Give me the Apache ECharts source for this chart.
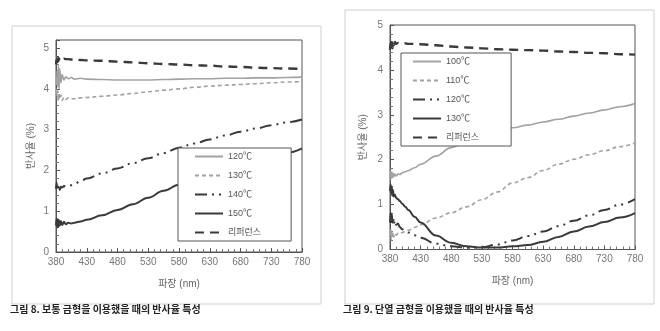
<!DOCTYPE html>
<html><head><meta charset="utf-8">
<script src="https://cdn.jsdelivr.net/npm/echarts@6/dist/echarts.min.js"></script>
<style>html,body{margin:0;padding:0;background:#fff}#c{width:660px;height:331px}</style>
</head><body><div id="c"></div>
<script>
// Wavelength samples (nm)
const wavelengths = [380,381,382,383,384,385,386,388,390,393,396,400,405,410,420,430,455,480,505,530,555,580,605,630,655,680,705,730,755,780];
const xTickLabels = [380,430,480,530,580,630,680,730,780];
const yTickLabels = [0,1,2,3,4,5];

// Figure 8 (보통 금형)
const fig8Names = ['120℃','130℃','140℃','150℃','리퍼런스'];
const fig8_120 = [4.3,4.1,4.45,4.05,4.6,4.0,4.5,4.15,4.35,4.22,4.3,4.25,4.28,4.24,4.26,4.24,4.23,4.22,4.22,4.22,4.23,4.24,4.25,4.25,4.26,4.26,4.27,4.27,4.28,4.29];
const fig8_130 = [3.9,4.0,3.75,3.95,3.7,3.9,3.75,3.85,3.72,3.8,3.74,3.78,3.76,3.76,3.78,3.79,3.82,3.85,3.89,3.93,3.97,4.0,4.04,4.07,4.09,4.11,4.13,4.15,4.17,4.18];
const fig8_140 = [1.55,1.7,1.5,1.68,1.55,1.62,1.52,1.6,1.58,1.62,1.6,1.62,1.64,1.67,1.74,1.8,1.93,2.05,2.18,2.3,2.43,2.56,2.66,2.76,2.86,2.95,3.03,3.11,3.18,3.25];
const fig8_150 = [0.65,0.82,0.6,0.8,0.62,0.78,0.65,0.76,0.66,0.74,0.68,0.72,0.7,0.72,0.75,0.79,0.9,1.03,1.17,1.33,1.5,1.65,1.77,1.88,1.99,2.1,2.21,2.32,2.43,2.54];
const fig8_ref = [4.6,4.72,4.62,4.78,4.68,4.75,4.7,4.74,4.72,4.74,4.73,4.73,4.72,4.72,4.71,4.7,4.69,4.67,4.65,4.63,4.61,4.6,4.58,4.57,4.55,4.54,4.52,4.51,4.5,4.49];

// Figure 9 (단열 금형)
const fig9Names = ['100℃','110℃','120℃','130℃','리퍼런스'];
const fig9_100 = [1.55,1.75,1.58,1.72,1.6,1.7,1.62,1.68,1.64,1.68,1.67,1.71,1.73,1.76,1.82,1.9,2.08,2.27,2.41,2.52,2.62,2.71,2.77,2.84,2.9,2.97,3.04,3.11,3.18,3.25];
const fig9_110 = [0.3,0.45,0.22,0.42,0.25,0.38,0.28,0.36,0.32,0.36,0.35,0.38,0.4,0.43,0.49,0.55,0.7,0.82,0.95,1.11,1.28,1.48,1.6,1.76,1.9,2.01,2.11,2.2,2.29,2.37];
const fig9_120 = [0.6,0.82,0.55,0.78,0.6,0.72,0.55,0.65,0.55,0.58,0.5,0.45,0.42,0.38,0.32,0.26,0.13,0.07,0.04,0.05,0.11,0.2,0.3,0.4,0.52,0.64,0.76,0.88,1.0,1.12];
const fig9_130 = [1.3,1.45,1.25,1.4,1.2,1.32,1.18,1.22,1.15,1.12,1.08,1.02,0.95,0.88,0.73,0.6,0.31,0.15,0.07,0.045,0.045,0.07,0.1,0.17,0.28,0.4,0.51,0.61,0.71,0.81];
const fig9_ref = [4.45,4.6,4.5,4.62,4.48,4.6,4.55,4.62,4.58,4.6,4.59,4.59,4.59,4.58,4.58,4.57,4.55,4.52,4.5,4.48,4.46,4.45,4.44,4.43,4.41,4.4,4.38,4.37,4.35,4.34];

const xStart = xTickLabels[0];
const pairs = vals => wavelengths.map((w,i)=>[w - xStart, vals[i]]);

const DARK = '#3a3a3a', GRAY = '#a2a2a2';
const FONT = "'Liberation Sans','Noto Sans CJK KR',sans-serif";
const styles = [
  {color: GRAY, width: 1.6, type: 'solid'},
  {color: GRAY, width: 1.6, type: [4,3]},
  {color: DARK, width: 2, type: [12,5,2,5,2,5]},
  {color: DARK, width: 2, type: 'solid'},
  {color: DARK, width: 2.4, type: [9,6]}
];

// internal unique ids so the two legends don't mix series with the same label
const uid = (fig, name) => fig + '|' + name;
const label = id => id.split('|')[1];

function mkSeries(fig, names, arrs, idx){
  return arrs.map((a,i)=>({
    name: uid(fig, names[i]), type:'line', xAxisIndex: idx, yAxisIndex: idx,
    data: pairs(a), showSymbol:false, symbol:'none', smooth:0.4, smoothMonotone:'x',
    lineStyle: {color: styles[i].color, width: styles[i].width, type: styles[i].type},
    itemStyle: {color: styles[i].color}, animation:false
  }));
}

function xAx(gi){
  return {type:'value', gridIndex: gi, min:0, max: xTickLabels[xTickLabels.length-1]-xStart, interval: xTickLabels[1]-xTickLabels[0],
    name:'파장 (nm)', nameLocation:'middle', nameGap: 27,
    nameTextStyle:{color:'#666', fontSize:10, fontFamily:FONT},
    axisLine:{show:true, lineStyle:{color:'#555', width:1}},
    axisTick:{show:true, inside:true, length:4, lineStyle:{color:'#555'}},
    minorTick:{show:true, splitNumber:5, length:3, lineStyle:{color:'#777'}},
    splitLine:{show:false}, minorSplitLine:{show:false},
    axisLabel:{color:'#777', fontSize:10, margin:5, fontFamily:FONT, formatter: v => String(v + xStart)}
  };
}
function yAx(gi, max, gap){
  return {type:'value', gridIndex: gi, min: yTickLabels[0], max: max, interval:1,
    name:'반사율 (%)', nameLocation:'middle', nameGap: gap,
    nameTextStyle:{color:'#666', fontSize:10, fontFamily:FONT},
    axisLine:{show:true, lineStyle:{color:'#555', width:1}},
    axisTick:{show:true, inside:true, length:4, lineStyle:{color:'#555'}},
    minorTick:{show:true, splitNumber:5, length:3, lineStyle:{color:'#777'}},
    splitLine:{show:false}, minorSplitLine:{show:false},
    axisLabel:{color:'#777', fontSize:10, margin:7, fontFamily:FONT, showMaxLabel: max === yTickLabels[yTickLabels.length-1],
      formatter: v => (yTickLabels.indexOf(v) >= 0 ? String(v) : '')}
  };
}
function legend(fig, names, left, top, pad){
  return {data: names.map(n => uid(fig, n)), formatter: label, orient:'vertical', left:left, top:top, padding: pad,
    itemWidth:28, itemHeight:10, itemGap:10, backgroundColor:'#fff',
    borderColor:'#555', borderWidth:1, borderRadius:0,
    itemStyle:{opacity:0, color:'rgba(0,0,0,0)', borderWidth:0},
    textStyle:{color:'#555', fontSize:9, fontFamily:FONT},
    inactiveColor:'#ccc', selectedMode:false};
}

const chart = echarts.init(document.getElementById('c'), null, {renderer:'canvas'});
chart.setOption({
  animation:false,
  backgroundColor:'#fff',
  grid:[
    {left:56, top:40, width:246, height:212, show:true, borderColor:'#555', borderWidth:1, containLabel:false},
    {left:390, top:25, width:245, height:224.5, show:true, borderColor:'#555', borderWidth:1, containLabel:false}
  ],
  xAxis:[xAx(0), xAx(1)],
  yAxis:[yAx(0, 5.2, 20), yAx(1, 5, 22)],
  legend:[legend('f8', fig8Names, 178, 148, [4,30,4,16]), legend('f9', fig9Names, 401, 53, [4,32,4,11])],
  series:[].concat(
    mkSeries('f8', fig8Names, [fig8_120, fig8_130, fig8_140, fig8_150, fig8_ref], 0),
    mkSeries('f9', fig9Names, [fig9_100, fig9_110, fig9_120, fig9_130, fig9_ref], 1)
  ),
  graphic:[
    {type:'rect', left:9.5, top:23.5, shape:{width:309, height:278}, style:{fill:'none', stroke:'#cfcfcf', lineWidth:1}, z:-10, silent:true},
    {type:'rect', left:342.5, top:7.5, shape:{width:309, height:294}, style:{fill:'none', stroke:'#cfcfcf', lineWidth:1}, z:-10, silent:true},
    {type:'text', left:10, top:304, style:{text:'그림 8. 보통 금형을 이용했을 때의 반사율 특성', fill:'#222', font:"bold 10px 'Noto Sans CJK KR', sans-serif"}},
    {type:'text', left:343, top:304, style:{text:'그림 9. 단열 금형을 이용했을 때의 반사율 특성', fill:'#222', font:"bold 10px 'Noto Sans CJK KR', sans-serif"}}
  ]
});
</script></body></html>
